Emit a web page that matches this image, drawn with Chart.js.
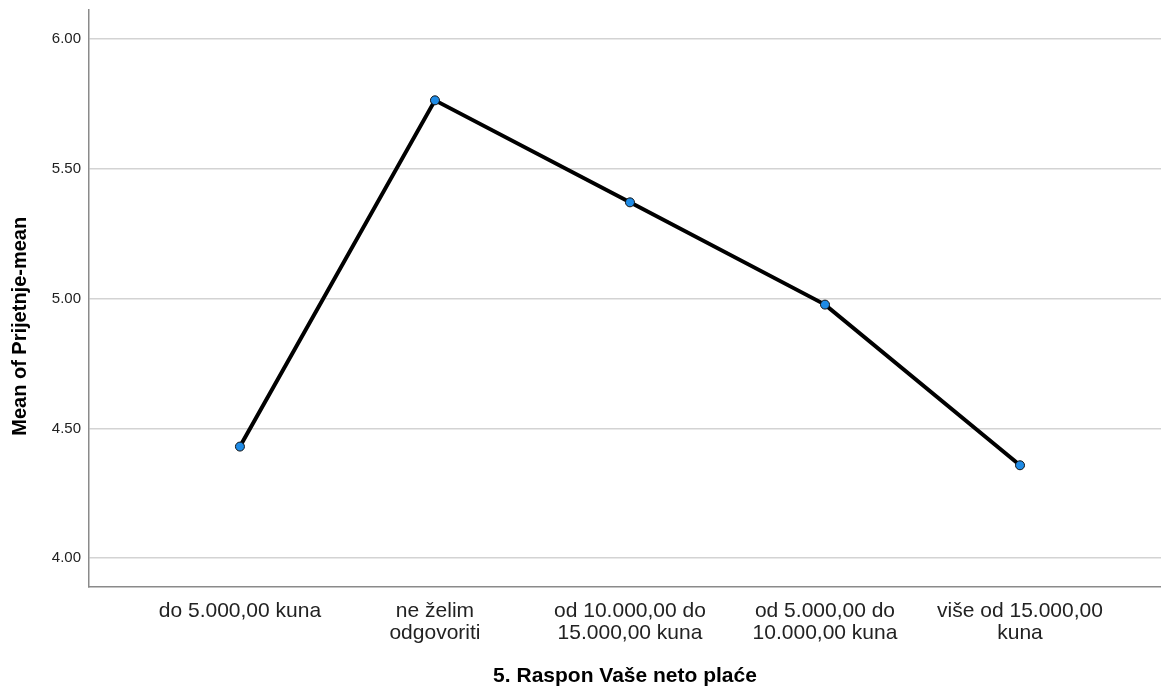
<!DOCTYPE html>
<html>
<head>
<meta charset="utf-8">
<script src="https://cdn.jsdelivr.net/npm/chart.js@4/dist/chart.umd.min.js"></script>
<style>
  html, body { margin: 0; padding: 0; background: #fff; }
  #wrap { width: 1161px; height: 689px; position: relative; }
</style>
</head>
<body>
<div id="wrap"><canvas id="chart"></canvas></div>
<script>
// podaci procitani sa grafa
const categories = [
  ["do 5.000,00 kuna"],
  ["ne želim", "odgovoriti"],
  ["od 10.000,00 do", "15.000,00 kuna"],
  ["od 5.000,00 do", "10.000,00 kuna"],
  ["više od 15.000,00", "kuna"]
];
const means = [4.43, 5.764, 5.371, 4.977, 4.358];
const yTicks = [4.0, 4.5, 5.0, 5.5, 6.0];

const points = means.map((v, i) => ({ x: i, y: v }));

document.addEventListener("DOMContentLoaded", () => {
  let ctx = document.getElementById("chart").getContext("2d");
  new Chart(ctx, {
    type: "line",
    data: {
      datasets: [{
        data: points,
        borderColor: "#000",
        borderWidth: 4,
        pointRadius: 4.5,
        pointBackgroundColor: "#1e8be6",
        pointBorderColor: "#111",
        pointBorderWidth: 1,
        tension: 0
      }]
    },
    options: {
      responsive: true,
      maintainAspectRatio: false,
      animation: false,
      layout: { autoPadding: false, padding: { top: 10, right: 0, left: 0, bottom: 0 } },
      plugins: {
        legend: { display: false },
        tooltip: { enabled: false }
      },
      scales: {
        x: {
          type: "linear",
          min: -0.774,
          max: 4.723,
          afterBuildTicks: (axis) => {
            axis.ticks = categories.map((c, i) => ({ value: i }));
          },
          afterFit: (axis) => {
            axis.height = 102;
            axis.paddingLeft = 0;
            axis.paddingRight = 0;
          },
          grid: { display: false, drawTicks: false },
          border: { display: true, color: "#8a8a8a", width: 1.5 },
          ticks: {
            autoSkip: false,
            maxRotation: 0,
            padding: 13,
            color: "#222",
            font: { family: "Liberation Sans", size: 21, lineHeight: 1.05 },
            callback: (v) => categories[v]
          },
          title: {
            display: true,
            text: "5. Raspon Vaše neto plaće",
            color: "#000",
            font: { family: "Liberation Sans", size: 21, weight: "bold" },
            padding: { top: 0, bottom: 0 }
          }
        },
        y: {
          min: 3.889,
          max: 6.112,
          afterBuildTicks: (axis) => {
            axis.ticks = yTicks.map(v => ({ value: v }));
          },
          afterFit: (axis) => {
            axis.width = 89;
            axis.paddingTop = 0;
            axis.paddingBottom = 0;
          },
          grid: { color: "#d3d3d3", lineWidth: 1.5, drawTicks: false },
          border: { display: true, color: "#8a8a8a", width: 1.5 },
          ticks: {
            padding: 8,
            color: "#222",
            font: { family: "Liberation Sans", size: 15 },
            callback: (v) => Number(v).toFixed(2)
          },
          title: {
            display: true,
            // razmaci na kraju spustaju naslov kao u originalu
            text: "Mean of Prijetnje-mean" + "          ",
            color: "#000",
            font: { family: "Liberation Sans", size: 20, weight: "bold" },
            padding: { top: 8, bottom: 0 }
          }
        }
      }
    }
  });
});
</script>
</body>
</html>
